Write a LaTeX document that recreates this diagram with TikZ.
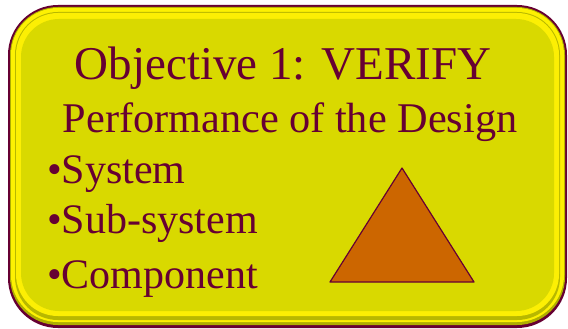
\documentclass[tikz,border=0pt]{standalone}
\usepackage{fontspec}
\setmainfont{Liberation Serif}
\usetikzlibrary{positioning}
\definecolor{maroon}{RGB}{102,0,51}
\definecolor{olive}{RGB}{217,217,0}
\definecolor{rust}{RGB}{204,102,0}
\tikzstyle{title}=[text=maroon, inner sep=0pt, font=\fontsize{47}{50}\selectfont]
\tikzstyle{item}=[text=maroon, inner sep=0pt, anchor=base west, font=\fontsize{42}{46}\selectfont]

\begin{document}
\begin{tikzpicture}[x=1pt, y=-1pt]
                        \useasboundingbox (0,0) rectangle (568,329);
                        % panel with a bevelled rim
                        \fill[maroon] (8,5) [rounded corners=50pt] rectangle (567,328);
                        \fill[olive!80!black] (10,7) [rounded corners=48pt] rectangle (565,325);
                        \fill[yellow!95!olive] (11,8) [rounded corners=47pt] rectangle (564,322);
                        \fill[olive!85!black] (15,12) [rounded corners=43pt] rectangle (560,320);
                        \fill[yellow!90!olive] (16,13) [rounded corners=42pt] rectangle (559,316);
                        \fill[olive] (21,19) [rounded corners=38pt] rectangle (554,311);
                        % texts
                        \node [title, anchor=base] (obj) at (283,80) {Objective 1: VERIFY};
                        \node [title, anchor=base, font=\fontsize{42.3}{46}\selectfont] (perf) at (290,132) {Performance of the Design};
                        \node [item] (sys) at (47,183) {•System};
                        \node [item] (sub) at (47,233) {•Sub-system};
                        \node [item] (comp) at (47,288) {•Component};
                        % triangle
                        \draw [maroon, line width=1.2pt, fill=rust, line join=round] (402,168) -- (474,282) -- (330,282) -- cycle;
                    \end{tikzpicture}
\end{document}
